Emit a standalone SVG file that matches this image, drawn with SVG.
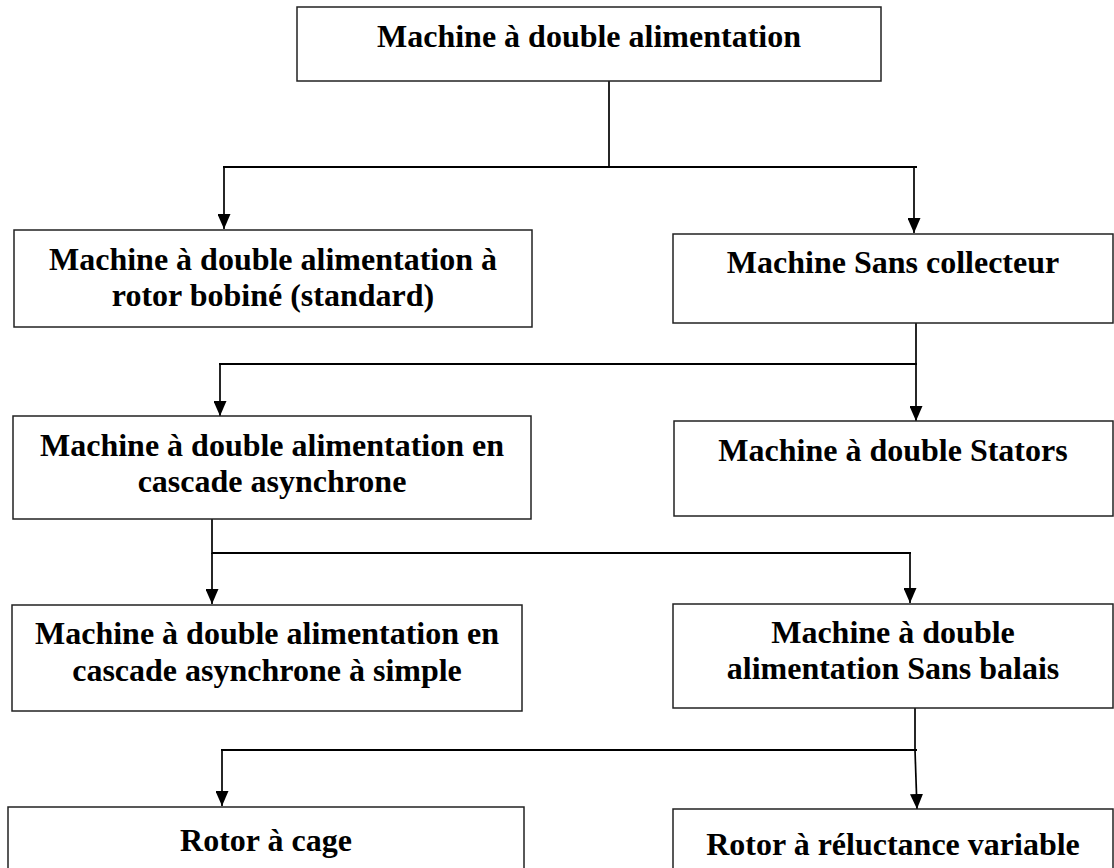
<svg xmlns="http://www.w3.org/2000/svg" width="1114" height="868" viewBox="0 0 1114 868">
<defs>
<style>
.box{fill:#fff;stroke:#222;stroke-width:1.5}
.t{font-family:"Liberation Serif","Times New Roman",serif;font-weight:bold;font-size:32px;fill:#000;text-anchor:middle}
.h{fill:none;stroke:#000;stroke-width:2.2}
.v{fill:none;stroke:#000;stroke-width:1.7}
.a{fill:none;stroke:#000;stroke-width:1.7;marker-end:url(#arr)}
</style>
<marker id="arr" markerUnits="userSpaceOnUse" markerWidth="15" markerHeight="13" refX="15" refY="6.5" orient="auto" viewBox="0 0 15 13">
<path d="M0,0 L15,6.5 L0,13 z" fill="#000"/>
</marker>
</defs>
<rect width="1114" height="868" fill="#fff"/>
<g id="connectors">
<line class="v" x1="609" y1="81" x2="609" y2="168"/>
<line class="h" x1="223" y1="167" x2="917" y2="167"/>
<line class="a" x1="224" y1="167" x2="224" y2="229"/>
<line class="a" x1="914" y1="167" x2="914" y2="233"/>
<line class="v" x1="916" y1="323" x2="916" y2="365"/>
<line class="h" x1="219" y1="364" x2="917" y2="364"/>
<line class="a" x1="220" y1="364" x2="220" y2="416"/>
<line class="a" x1="916" y1="364" x2="916" y2="421"/>
<line class="v" x1="212" y1="519" x2="212" y2="554"/>
<line class="h" x1="212" y1="553" x2="911" y2="553"/>
<line class="a" x1="212" y1="553" x2="212" y2="604"/>
<line class="a" x1="910" y1="553" x2="910" y2="603"/>
<line class="v" x1="915" y1="708" x2="915" y2="751"/>
<line class="h" x1="221" y1="750" x2="917" y2="750"/>
<line class="a" x1="222" y1="750" x2="222" y2="806"/>
<line class="a" x1="915" y1="750" x2="917" y2="809"/>
</g>
<g id="n_root">
<rect class="box" x="297" y="7" width="584" height="74"/>
<text class="t" x="589" y="47">Machine à double alimentation</text>
</g>
<g id="n_rotor_bobine">
<rect class="box" x="14" y="230" width="518" height="97"/>
<text class="t" x="273" y="270">Machine à double alimentation à</text>
<text class="t" x="273" y="306">rotor bobiné (standard)</text>
</g>
<g id="n_sans_collecteur">
<rect class="box" x="673" y="234" width="440" height="89"/>
<text class="t" x="893" y="273">Machine Sans collecteur</text>
</g>
<g id="n_cascade">
<rect class="box" x="13" y="416" width="518" height="103"/>
<text class="t" x="272" y="456">Machine à double alimentation en</text>
<text class="t" x="272" y="492">cascade asynchrone</text>
</g>
<g id="n_stators">
<rect class="box" x="674" y="421" width="439" height="95"/>
<text class="t" x="893" y="461">Machine à double Stators</text>
</g>
<g id="n_simple">
<rect class="box" x="12" y="605" width="510" height="106"/>
<text class="t" x="267" y="644">Machine à double alimentation en</text>
<text class="t" x="267" y="681">cascade asynchrone à simple</text>
</g>
<g id="n_sans_balais">
<rect class="box" x="673" y="604" width="440" height="104"/>
<text class="t" x="893" y="643">Machine à double</text>
<text class="t" x="893" y="679">alimentation Sans balais</text>
</g>
<g id="n_cage">
<rect class="box" x="8" y="807" width="516" height="70"/>
<text class="t" x="266" y="851">Rotor à cage</text>
</g>
<g id="n_reluctance">
<rect class="box" x="673" y="809" width="440" height="70"/>
<text class="t" x="893" y="855">Rotor à réluctance variable</text>
</g>
</svg>
